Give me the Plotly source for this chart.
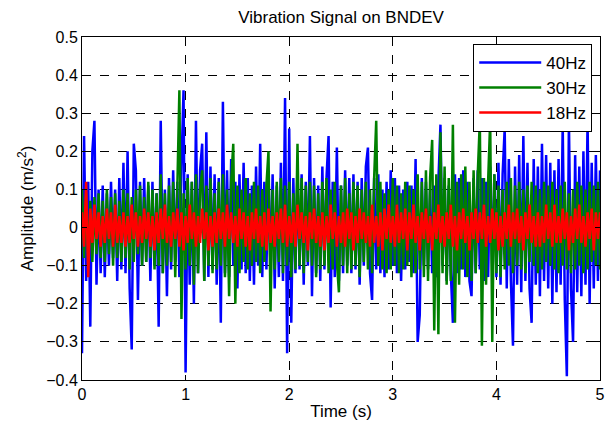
import plotly.graph_objects as go

# sampling interval (s)
dt = 0.02

# Amplitudes in hundredths of m/s^2 (one per 0.02 s)
blue_40hz = [
    -33, 24, -14, 12, -26, 20, 28, -15, 10, -12,
    11, -13, 9, -10, 12, -8, 10, -14, 13, -11,
    17, -12, 20, -16, -32, 22, 15, -19, 12, -10,
    13, -9, 11, -14, 12, -10, 9, -26, 28, -12,
    10, -18, 13, -11, 15, -9, 12, -13, 16, 36,
    -38, 14, -15, 12, -20, 28, -12, 15, 22, -14,
    25, -13, 16, -11, 14, -15, 13, -25, 33, -12,
    15, -13, 18, -10, 12, -16, 14, -11, 17, -12,
    13, -14, 11, -15, 16, -10, 22, -13, 12, -11,
    15, -12, 14, -16, 11, -13, 17, -14, 34, -33,
    26, -25, 13, -12, 15, -11, 14, -15, 12, -10,
    24, -18, 13, -12, 11, -14, 16, -11, 13, 24,
    -21, 12, -13, 21, -14, 11, -12, 15, -10, 13,
    -12, 14, -11, 12, -15, 13, -10, 16, 21, -12,
    -19, 13, -11, 14, -12, 10, -13, 12, -11, 15,
    -10, 13, -12, 11, -14, 10, -11, 12, -9, 11,
    -12, 18, -30, -23, 13, -10, 12, -11, 10, -12,
    11, -13, 12, 27, -10, 13, -14, 11, -12, -25,
    14, -12, 13, -11, 15, -13, 12, -14, -18, 13,
    -12, 15, -11, 13, -14, 12, -13, 16, -11, 14,
    -13, 17, -15, 14, 26, -16, 18, -14, -31, 16,
    -15, 19, -17, 24, -14, 17, -16, -25, 18, -15,
    16, -18, 22, -14, 19, -16, 17, -20, 15, -17,
    18, -15, 27, -19, -39, 28, -16, -30, 19, -17,
    16, -18, 20, -15, 28, -20, 17, -16, 19, -14, 15,
]

green_30hz = [
    10, -8, 9, -10, 7, -9, 8, -7, 9, -8,
    7, -9, 10, -7, 8, -10, 9, -8, 7, -9,
    10, -8, 9, -11, 8, -9, 10, -7, 11, -10,
    8, -9, 12, -8, 10, -11, 9, -10, 14, -12,
    9, -10, 11, -9, 12, -13, 10, 36, -24, 9,
    -11, 13, -10, 12, -15, 14, -12, 10, 15, -14,
    11, -10, 13, -12, 9, -11, 12, -10, 14, -13,
    10, -18, 12, 22, -20, 11, -12, 10, -9, 13,
    -11, 9, -10, 12, -9, 11, -12, 10, -9, 11,
    20, -22, 10, -11, 12, -9, 13, -12, 11, -10,
    12, -13, 9, -11, 22, -10, 13, -12, 11, -9,
    12, -10, 11, -13, 9, -11, 12, -10, 13, -12,
    10, -11, 12, -9, -17, 11, -10, 13, -12, 9,
    -11, 12, -10, 11, -13, 10, -9, 12, -11, 10,
    -12, 13, 28, -10, 12, -11, 9, -12, 10, -11,
    13, -10, 11, -12, 9, -11, 12, -10, 11, -13,
    10, -12, 14, -11, 12, -13, 15, -14, 13, 23,
    -27, 14, -28, 25, -12, 16, -15, 13, -14, 27,
    -25, 12, -15, 14, -11, 16, -13, 12, -14, 15,
    -12, 14, 28, -31, 13, -15, 12, 28, -30, 14,
    -12, 11, -13, 10, -11, 12, -10, 13, -12, 11,
    -10, 12, -11, 10, -12, 11, -9, 12, -10, 11,
    -12, 10, -11, 12, -9, 11, -10, 12, -11, 10,
    -12, 11, -10, 12, -11, 9, -12, 10, -11, 12,
    -10, 11, -12, 10, -11, 12, -9, 11, -10, 12, -11,
]

red_18hz = [
    4, -5, 12, -13, 5, -4, 6, -3, 4, -5,
    3, -4, 5, -3, 4, -5, 6, -4, 3, -4,
    4, -5, 3, -4, 6, -3, 4, -5, 3, -4,
    5, -3, 4, -5, 3, -6, 4, -4, 5, -3,
    6, -4, 3, -5, 4, -3, 5, -5, 4, -6,
    3, -4, 6, -3, 4, -5, 3, -4, 5, -3,
    4, -6, 3, -5, 4, -4, 5, -3, 4, -5,
    6, -3, 4, -4, 3, -5, 5, -3, 4, -5,
    3, -6, 4, -3, 5, -4, 3, -5, 4, -6,
    5, -4, 3, -5, 4, -3, 5, -4, 6, -5,
    3, -4, 4, -5, 6, -3, 4, -4, 3, -6,
    4, -3, 5, -4, 3, -5, 4, -6, 3, -4,
    6, -3, 4, -5, 3, -4, 4, -5, 5, -3,
    4, -6, 3, -4, 5, -3, 4, -4, 3, -5,
    6, -4, 3, -5, 4, -6, 5, -3, 6, -4,
    3, -5, 6, -4, 4, -3, 5, -6, 4, -3,
    6, -4, 3, -6, 4, -3, 5, -4, 3, -6,
    4, -3, 6, -4, 3, -5, 4, -3, 6, -5,
    3, -6, 4, -3, 5, -4, 3, -6, 4, -3,
    5, -4, 4, -3, 6, -5, 3, -4, 5, -3,
    4, -6, 3, -5, 4, -3, 6, -5, 4, -3,
    5, -4, 3, -6, 4, -3, 6, -4, 3, -5,
    4, -5, 3, -4, 6, -3, 4, -5, 6, -4,
    3, -4, 5, -3, 4, -6, 3, -4, 5, -3,
    6, -4, 3, -5, 4, -3, 5, -6, 4, -3, 4,
]

series_names = ["40Hz", "30Hz", "18Hz"]
series_values = [blue_40hz, green_30hz, red_18hz]
series_colors = ["#0000FF", "#008000", "#FF0000"]

time_s = [round(i * dt, 4) for i in range(len(blue_40hz))]

fig = go.Figure()
for name, vals, col in zip(series_names, series_values, series_colors):
    fig.add_trace(go.Scatter(
        x=time_s, y=[v / 100 for v in vals], mode="lines", name=name,
        line=dict(color=col, width=2.5),
    ))

font_family = "Liberation Sans, Arial, sans-serif"
axis_common = dict(
    showline=True, linecolor="black", linewidth=1, mirror="ticks",
    ticks="inside", ticklen=5, tickcolor="black",
    showgrid=True, gridcolor="black", griddash="dash", gridwidth=1,
    zeroline=False, tickfont=dict(size=16, color="black"),
    automargin=False, ticklabeloverflow="allow",
)

fig.update_layout(
    width=608, height=424,
    margin=dict(l=82, r=8, t=37, b=44),
    paper_bgcolor="white", plot_bgcolor="white",
    font=dict(family=font_family, size=16, color="black"),
    title=dict(text="Vibration Signal on BNDEV", x=0.561, xanchor="center",
               y=0.975, yanchor="top", font=dict(size=17)),
    xaxis=dict(range=[0, 5], dtick=1, tick0=0,
               title=dict(text="Time (s)", standoff=2, font=dict(size=17)),
               **axis_common),
    yaxis=dict(range=[-0.4, 0.5], dtick=0.1, tick0=0, tickformat="~g",
               title=dict(text="Amplitude (m/s<sup>2</sup>)", standoff=8, font=dict(size=17)),
               **axis_common),
    legend=dict(x=0.985, xanchor="right", y=0.98, yanchor="top",
                bgcolor="white", bordercolor="black", borderwidth=1,
                font=dict(size=17), tracegroupgap=0, itemwidth=62),
    showlegend=True,
)

fig.write_html(
    "out.html",
    config={"displayModeBar": False},
    post_script="document.body.style.margin='0';document.body.style.overflow='hidden';",
)
